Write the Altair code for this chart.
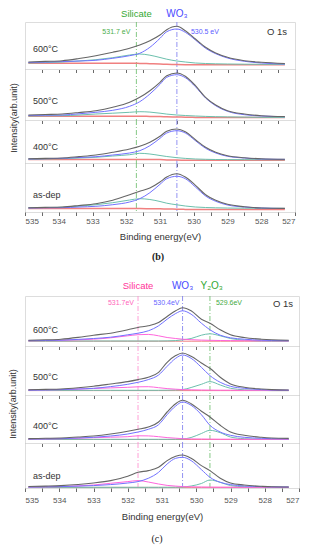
import altair as alt
import pandas as pd

# ---------------- data (b) ----------------
EB = [534.9, 534.4, 533.9, 533.4, 532.9, 532.4, 531.9, 531.6, 531.3, 531.0,
      530.8, 530.5, 530.25, 529.95, 529.65, 529.35, 529.0, 528.5, 528.0, 527.3]

B_TOTAL = [
    [7.0, 7.6, 8.3, 10.5, 13.3, 16.7, 20.7, 24, 28.3, 34, 39.3, 42.7, 38.3, 30, 21.7, 16, 11.7, 8.3, 6.7, 5.5],
    [5.0, 5.5, 6, 7.5, 9.3, 12.7, 17.7, 22.7, 29.3, 37.7, 44.3, 47, 43.7, 34.3, 22.7, 15, 9.3, 6, 4.3, 3.5],
    [4.2, 4.6, 5, 6.4, 8, 10.7, 14, 16.7, 20.7, 26.7, 31.7, 34, 31.3, 23.3, 15.7, 10.7, 7.3, 5.3, 4.3, 3.8],
    [4.3, 4.6, 5, 6.5, 8.3, 11.7, 17.3, 20.7, 24, 30, 35, 38.3, 35, 26.7, 17.3, 11.7, 7.7, 5.3, 4, 3.6],
]
B_WO3 = [
    [6.5, 6.9, 7.4, 8.0, 8.7, 10.7, 13.3, 15.7, 21.7, 30.7, 37.3, 40, 36.7, 29, 20.7, 15.3, 11, 7.7, 6, 5],
    [4.5, 4.8, 5, 6.2, 7.7, 9.7, 13.7, 18.3, 26, 35.7, 42.7, 45.3, 42.3, 33.3, 22, 14.3, 8.7, 5.3, 4, 3.3],
    [4.0, 4.3, 4.7, 5.5, 6.3, 8, 10, 12.3, 17.3, 24.7, 30, 32.3, 30, 22.3, 14.7, 10, 6.7, 5, 4, 3.6],
    [4.0, 4.2, 4.3, 5, 5.7, 7.3, 10, 13.3, 19.3, 27.7, 33.3, 35.7, 33.3, 25, 16, 10.7, 7, 5, 4, 3.5],
]
B_SIL = [
    [6.0, 6.4, 7.0, 8.0, 9.3, 11.3, 14, 15, 13.8, 11.5, 9.8, 8, 7, 6, 5.5, 5.2, 5.0, 4.8, 4.7, 4.6],
    [4.0, 4.2, 4.3, 5, 6, 6.8, 7.7, 8.3, 7.9, 6.8, 5.9, 5, 4.5, 4, 3.6, 3.3, 3.1, 2.9, 2.7, 2.6],
    [3.8, 4.0, 4.3, 5, 5.7, 7, 8.3, 9.7, 9, 7.5, 6.5, 5.3, 4.6, 4, 3.7, 3.5, 3.4, 3.3, 3.3, 3.2],
    [4.2, 4.4, 4.7, 5.8, 7.3, 9.3, 12, 13.3, 12.5, 10.5, 8.8, 7.2, 6, 5, 4.5, 4.2, 4, 3.8, 3.7, 3.6],
]
B_BG = [
    [5.8, 5.8, 5.8, 5.8, 5.8, 5.8, 5.8, 5.6, 5.3, 5.0, 4.7, 4.4, 4.3, 4.3, 4.3, 4.3, 4.3, 4.3, 4.3, 4.3],
    [3.7, 3.7, 3.7, 3.7, 3.7, 3.7, 3.7, 3.7, 3.6, 3.5, 3.2, 3.0, 2.8, 2.6, 2.5, 2.5, 2.5, 2.5, 2.5, 2.5],
    [3.6, 3.6, 3.6, 3.6, 3.6, 3.6, 3.6, 3.6, 3.5, 3.4, 3.1, 2.9, 2.8, 2.7, 2.7, 2.7, 2.7, 2.7, 2.7, 2.7],
    [3.4, 3.4, 3.4, 3.4, 3.4, 3.4, 3.4, 3.4, 3.3, 3.2, 3.0, 2.8, 2.6, 2.5, 2.5, 2.5, 2.5, 2.5, 2.5, 2.5],
]

# ---------------- data (c) ----------------
EC = [534.9, 534.4, 533.95, 533.45, 533.0, 532.5, 532.0, 531.7, 531.4, 531.1, 530.85,
      530.6, 530.4, 530.15, 529.85, 529.6, 529.3, 529.0, 528.6, 528.1, 527.8, 527.3]

C_TOTAL = [
    [5.8, 6.2, 6.8, 8.6, 10.8, 12.8, 16.2, 18.5, 20.2, 23.5, 29.5, 35.2, 38.2, 35.2, 26.8, 22.8, 16.2, 11.2, 8.5, 6.8, 6.2, 5.8],
    [5.2, 5.6, 6, 7.2, 8.7, 11, 13.4, 15.4, 17.7, 22.7, 32.7, 39.4, 42, 38.7, 32, 26.7, 17.7, 11, 7.7, 6, 5.4, 5.0],
    [4.4, 4.7, 5, 6, 7, 9, 11.7, 13.7, 16, 21, 31, 39.3, 42.7, 39.3, 31.7, 26, 17.7, 11, 7.7, 5.7, 5, 4.6],
    [1.5, 1.9, 2.4, 3.5, 5, 7.4, 11.7, 15.7, 17.4, 20.7, 27.4, 31.7, 33, 29.7, 22.4, 17.4, 9.7, 5, 3, 1.7, 1.2, 1.0],
]
C_WO3 = [
    [5.3, 5.5, 5.8, 6.6, 7.5, 8.8, 11.2, 12.8, 15.2, 20.2, 26.8, 32.5, 35.2, 31.8, 22.8, 16.2, 10.8, 8.2, 6.8, 5.8, 5.5, 5.3],
    [4.8, 5.1, 5.4, 6.0, 6.7, 8.4, 10.7, 12.7, 15.4, 20, 28.7, 36.7, 40, 36.7, 27.7, 19.4, 12.7, 8.7, 6.7, 5.4, 5, 4.8],
    [4.0, 4.1, 4.3, 5.0, 5.7, 7, 9, 11, 13.7, 18.3, 28.3, 37, 41, 37.7, 28.3, 17.7, 11, 7.7, 5.7, 4.7, 4.3, 4.1],
    [1.0, 1.2, 1.4, 1.9, 2.4, 3.4, 5, 6.4, 9.7, 15.7, 24, 29.7, 30.7, 27.4, 18.4, 10.7, 5.7, 3.4, 2, 1.4, 1.1, 1.0],
]
C_SIL = [
    [5.3, 5.5, 5.8, 6.2, 6.8, 8.2, 10.2, 11.3, 11.6, 10.2, 8.5, 7.5, 6.8, 6.3, 5.9, 5.7, 5.5, 5.4, 5.3, 5.2, 5.2, 5.1],
    [5.0, 5.2, 5.4, 5.9, 6.5, 7.1, 7.7, 8.2, 8.3, 7.3, 6.4, 5.8, 5.4, 5.2, 5.0, 4.9, 4.8, 4.8, 4.7, 4.7, 4.7, 4.7],
    [4.0, 4.1, 4.3, 4.8, 5.3, 5.8, 6.3, 7.2, 7.1, 6.3, 5.4, 4.8, 4.3, 4.1, 4.0, 3.9, 3.8, 3.8, 3.7, 3.7, 3.7, 3.7],
    [1.0, 1.2, 1.4, 2.1, 3, 4.7, 6.4, 7.4, 6.0, 4.0, 2.6, 1.9, 1.4, 1.2, 1.0, 0.9, 0.8, 0.8, 0.7, 0.7, 0.7, 0.7],
]
C_Y2O3 = [
    [5.0, 5.0, 5.0, 5.0, 5.0, 5.0, 5.0, 5.0, 5.0, 5.0, 5.1, 5.4, 6.2, 7.5, 10.8, 12.2, 10.2, 7.5, 5.8, 5.0, 4.8, 4.8],
    [4.7, 4.7, 4.7, 4.7, 4.7, 4.7, 4.7, 4.7, 4.7, 4.7, 4.8, 5.0, 5.4, 7.5, 10.7, 13.4, 10, 6.7, 5.2, 4.6, 4.4, 4.4],
    [3.7, 3.7, 3.7, 3.7, 3.7, 3.7, 3.7, 3.7, 3.7, 3.7, 3.7, 3.8, 4.0, 5.5, 9.5, 12.7, 10.3, 6, 4.3, 3.8, 3.7, 3.7],
    [0.7, 0.7, 0.7, 0.7, 0.7, 0.7, 0.7, 0.7, 0.7, 0.7, 0.7, 0.8, 1.0, 2.0, 4.5, 8, 5.7, 2.4, 1.2, 0.8, 0.7, 0.7],
]
C_BG = [
    [4.8, 4.8, 4.8, 4.8, 4.8, 4.8, 4.8, 4.8, 4.8, 4.8, 4.8, 4.8, 4.8, 4.8, 4.8, 4.8, 4.8, 4.8, 4.8, 4.8, 4.8, 4.8],
    [4.4, 4.4, 4.4, 4.4, 4.4, 4.4, 4.4, 4.4, 4.4, 4.4, 4.4, 4.4, 4.4, 4.4, 4.4, 4.4, 4.4, 4.4, 4.4, 4.4, 4.4, 4.4],
    [3.5, 3.5, 3.5, 3.5, 3.5, 3.5, 3.5, 3.5, 3.5, 3.5, 3.5, 3.5, 3.5, 3.5, 3.5, 3.5, 3.5, 3.5, 3.5, 3.5, 3.5, 3.5],
    [0.6, 0.6, 0.6, 0.6, 0.6, 0.6, 0.6, 0.6, 0.6, 0.6, 0.6, 0.6, 0.6, 0.6, 0.6, 0.6, 0.6, 0.6, 0.6, 0.6, 0.6, 0.6],
]

SAMPLES = ["600°C", "500°C", "400°C", "as-dep"]
TICKS = [535, 534.5, 534, 533.5, 533, 532.5, 532, 531.5, 531, 530.5,
         530, 529.5, 529, 528.5, 528, 527.5, 527]

B_HEIGHTS = [47, 51, 43, 49]
C_HEIGHTS = [50, 49, 48, 45]
B_LABEL_Y = [27, 32, 27, 32]
C_LABEL_Y = [34, 31, 31, 33]

FONT = "Liberation Sans"


def txt(text, x, y, size, color, align="left", angle=0, font=FONT, weight="normal",
        xscale=None, axis=None, dx=0):
    df = pd.DataFrame({"t": [text], "E": [x if xscale is not None else 0]})
    kw = dict(align=align, baseline="middle", fontSize=size, color=color, font=font,
              fontWeight=weight, dx=dx)
    if angle:
        kw["angle"] = angle
    m = alt.Chart(df).mark_text(**kw)
    if xscale is not None:
        return m.encode(text="t:N", x=alt.X("E:Q", scale=xscale, axis=axis), y=alt.value(y))
    return m.encode(text="t:N", x=alt.value(x), y=alt.value(y))


def panel(E, comps, H, W, sample, sample_y, rules, bottom=None, extras=None):
    xs = alt.Scale(domain=[527, 535], reverse=True, nice=False, zero=False)
    ys = alt.Scale(domain=[0, H], nice=False, zero=False)
    common = dict(values=TICKS, tickSize=3.5, tickColor="#444", tickWidth=0.8,
                  domain=False, grid=False)
    if bottom is None:
        axis = alt.Axis(labels=False, title=None, **common)
    else:
        lp, tp = bottom
        axis = alt.Axis(title="Binding energy(eV)", labelExpr="datum.value % 1 == 0 ? format(datum.value, 'd') : ''",
                        labelFontSize=8, labelColor="#555", labelFont=FONT, labelPadding=lp,
                        titleFontSize=9.5, titleFont=FONT, titleColor="#333",
                        titleFontWeight="normal", titlePadding=tp, **common)
    layers = []
    rdf = pd.DataFrame({"E": [r[0] for r in rules], "c": [r[1] for r in rules]})
    layers.append(alt.Chart(rdf).mark_rule(strokeDash=[5, 2, 1, 2], strokeWidth=0.8).encode(
        x=alt.X("E:Q", scale=xs, axis=axis), color=alt.Color("c:N", scale=None)))
    for vals, color, sw in comps:
        df = pd.DataFrame({"E": E, "I": vals})
        layers.append(alt.Chart(df).mark_line(color=color, strokeWidth=sw, interpolate="monotone").encode(
            x=alt.X("E:Q", scale=xs, axis=axis), y=alt.Y("I:Q", scale=ys, axis=None)))
    layers.append(txt(sample, 8, sample_y, 9, "#333"))
    for e in (extras or []):
        layers.append(e(xs, axis))
    return alt.layer(*layers).properties(width=W, height=H)


BLACK = "#666666"
BLUE = "#7272ff"
TEAL = "#6cc0ad"
RED = "#f08080"
MAG = "#ff66dd"

WB = 270
WC = 274

b_rules = [(531.7, "#66bb66"), (530.5, "#7777ee")]
c_rules = [(531.7, "#ff88cc"), (530.4, "#7777ee"), (529.6, "#66bb66")]

b_panels = []
for i in range(4):
    comps = [(B_BG[i], RED, 1.5), (B_SIL[i], TEAL, 1), (B_WO3[i], BLUE, 1), (B_TOTAL[i], BLACK, 1.1)]
    extras = []
    if i == 0:
        extras = [
            lambda xs, ax: txt("Silicate", 531.7, -8, 9.5, "#33a833", align="center", xscale=xs, axis=ax),
            lambda xs, ax: txt("WO₃", 530.5, -8, 10, "#4a4aff", align="center", xscale=xs, axis=ax),
            lambda xs, ax: txt("531.7 eV", 531.7, 10, 7, "#4cae4c", align="right", xscale=xs, axis=ax, dx=-6),
            lambda xs, ax: txt("530.5 eV", 530.5, 10, 7, "#5b5bff", align="left", xscale=xs, axis=ax, dx=14),
            lambda xs, ax: txt("O 1s", WB - 8, 10, 9.5, "#333", align="right"),
        ]
    if i == 2:
        extras = [lambda xs, ax: txt("Intensity(arb.unit)", -11, -2, 9, "#333", align="center", angle=270)]
    bottom = (1.5, 6) if i == 3 else None
    b_panels.append(panel(EB, comps, B_HEIGHTS[i], WB, SAMPLES[i], B_LABEL_Y[i], b_rules, bottom, extras))

spacer = alt.layer(
    txt("(b)", 133, 45, 10, "#222", align="center", font="Liberation Serif", weight="bold")
).properties(width=WB, height=84, view=alt.ViewBackground(stroke="transparent"))

c_panels = []
for i in range(4):
    comps = [(C_BG[i], RED, 1), (C_Y2O3[i], TEAL, 1), (C_SIL[i], MAG, 1), (C_WO3[i], BLUE, 1), (C_TOTAL[i], BLACK, 1.1)]
    extras = []
    if i == 0:
        extras = [
            lambda xs, ax: txt("Silicate", 531.7, -10, 9.5, "#ff3399", align="center", xscale=xs, axis=ax),
            lambda xs, ax: txt("WO₃", 530.4, -10, 10, "#4a4aff", align="center", xscale=xs, axis=ax),
            lambda xs, ax: txt("Y₂O₃", 529.55, -10, 10, "#33a833", align="center", xscale=xs, axis=ax),
            lambda xs, ax: txt("531.7eV", 531.7, 7, 7, "#ff66bb", align="right", xscale=xs, axis=ax, dx=-4),
            lambda xs, ax: txt("530.4eV", 530.4, 7, 7, "#6666ff", align="right", xscale=xs, axis=ax, dx=-3),
            lambda xs, ax: txt("529.6eV", 529.6, 7, 7, "#44aa44", align="left", xscale=xs, axis=ax, dx=6),
            lambda xs, ax: txt("O 1s", WC - 6, 8, 9.5, "#333", align="right"),
        ]
    if i == 2:
        extras = [lambda xs, ax: txt("Intensity(arb.unit)", -12, 9, 9, "#333", align="center", angle=270)]
    if i == 3:
        extras = [lambda xs, ax: txt("(c)", 132, 96, 10, "#222", align="center", font="Liberation Serif")]
    bottom = (4.5, 7) if i == 3 else None
    c_panels.append(panel(EC, comps, C_HEIGHTS[i], WC, SAMPLES[i], C_LABEL_Y[i], c_rules, bottom, extras))

chart = alt.vconcat(*b_panels, spacer, *c_panels, spacing=0, bounds="flush").properties(
    padding={"left": 0, "top": 0, "right": 0, "bottom": 0}
).configure_view(stroke="#444", strokeWidth=1).configure(font=FONT)

chart.save("out.html", embed_options={"renderer": "svg", "actions": False})
